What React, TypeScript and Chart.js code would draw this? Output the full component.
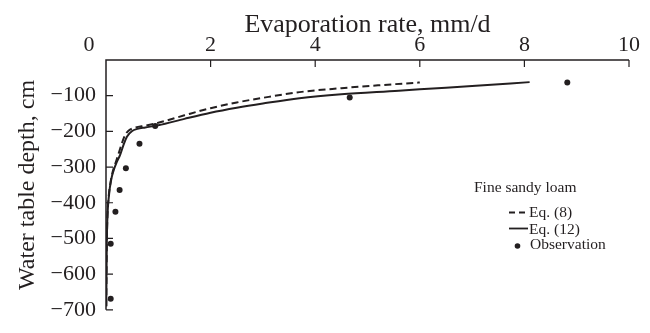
import React, { useEffect, useRef } from 'react';
import { Chart, registerables } from 'chart.js';

Chart.register(...registerables);

const SERIF = "'Liberation Serif', 'Times New Roman', serif";
const INK = '#231f20';

// Axis ranges / ticks
const xTickValues = [0, 2, 4, 6, 8, 10];
const yTickValues = [0, -100, -200, -300, -400, -500, -600, -700];

// Eq. (8) – dashed curve
const eq8X = [0.005, 0.01, 0.015, 0.025, 0.05, 0.09, 0.13, 0.19, 0.25, 0.3, 0.36, 0.43, 0.55, 0.75, 1.0, 1.5, 2.0, 2.5, 3.0, 3.7, 4.5, 5.2, 6.0];
const eq8Y = [-690, -600, -520, -450, -385, -340, -312, -285, -258, -235, -212, -198, -190, -184, -176, -155, -135, -119, -106, -90, -79, -71, -63];

// Eq. (12) – solid curve
const eq12X = [0.005, 0.01, 0.015, 0.025, 0.06, 0.1, 0.14, 0.2, 0.27, 0.33, 0.4, 0.5, 0.6, 0.75, 1.0, 1.5, 2.0, 2.5, 3.0, 3.7, 4.5, 5.6, 6.0, 7.0, 8.1];
const eq12Y = [-690, -600, -520, -450, -375, -335, -312, -288, -266, -240, -215, -199, -193, -189, -183, -165, -148, -134, -122, -107, -96, -86, -82, -73, -62];

// Observations
const obsX = [0.09, 0.09, 0.18, 0.26, 0.38, 0.64, 0.94, 4.66, 8.82];
const obsY = [-669, -515, -425, -364, -303, -235, -185, -105, -63];

const legendTitle = 'Fine sandy loam';
const legendLabels = ['Eq. (8)', 'Eq. (12)', 'Observation'];

const toPts = (xs: number[], ys: number[]) => xs.map((x, i) => ({ x, y: ys[i] }));

const X_TICK_PAD = 2;
const X_TICK_FONT = 22;

const customPlugin = {
  id: 'customAxesLegend',
  afterDraw(chart: any) {
    const { ctx, scales } = chart;
    const xs = scales.x;
    const ys = scales.y;
    const xL = xs.getPixelForValue(0);
    const xR = xs.getPixelForValue(10);
    const yT = ys.getPixelForValue(0);
    const yB = ys.getPixelForValue(-700);
    ctx.save();
    ctx.strokeStyle = INK;
    ctx.lineWidth = 1.5;
    ctx.lineCap = 'butt';
    // axes
    ctx.beginPath();
    ctx.moveTo(xR, yT);
    ctx.lineTo(xL, yT);
    ctx.lineTo(xL, yB);
    ctx.stroke();
    // inward ticks
    ctx.lineWidth = 1.2;
    ctx.beginPath();
    xTickValues.forEach((v) => {
      if (v === 0) return;
      const px = xs.getPixelForValue(v);
      ctx.moveTo(px, yT);
      ctx.lineTo(px, yT + 7);
    });
    yTickValues.forEach((v) => {
      if (v === 0) return;
      const py = ys.getPixelForValue(v);
      ctx.moveTo(xL, py);
      ctx.lineTo(xL + 7, py);
    });
    ctx.stroke();

    // "0" label on top axis (offset left of the corner)
    ctx.fillStyle = INK;
    ctx.font = `${X_TICK_FONT}px ${SERIF}`;
    ctx.textAlign = 'center';
    ctx.textBaseline = 'middle';
    ctx.fillText('0', xL - 17, xs.bottom - X_TICK_PAD - (X_TICK_FONT * 1.2) / 2);

    // legend
    ctx.font = `15.5px ${SERIF}`;
    ctx.textAlign = 'left';
    ctx.textBaseline = 'middle';
    ctx.fillText(legendTitle, 474, 188);
    const lx = 509;
    const tx = 529;
    // dashed
    ctx.lineWidth = 1.8;
    ctx.setLineDash([6, 4]);
    ctx.beginPath();
    ctx.moveTo(lx, 212.5);
    ctx.lineTo(lx + 17, 212.5);
    ctx.stroke();
    ctx.setLineDash([]);
    ctx.fillText(legendLabels[0], tx, 213);
    // solid
    ctx.beginPath();
    ctx.moveTo(lx, 228.5);
    ctx.lineTo(lx + 19, 228.5);
    ctx.stroke();
    ctx.fillText(legendLabels[1], tx, 230);
    // dot
    ctx.beginPath();
    ctx.arc(517.5, 246, 2.8, 0, Math.PI * 2);
    ctx.fill();
    ctx.fillText(legendLabels[2], 530, 245);
    ctx.restore();
  },
};

export default function App() {
  const canvasRef = useRef<HTMLCanvasElement | null>(null);

  useEffect(() => {
    if (!canvasRef.current) return;
    const chart = new Chart(canvasRef.current, {
      type: 'scatter',
      data: {
        datasets: [
          {
            label: legendLabels[0],
            data: toPts(eq8X, eq8Y),
            showLine: true,
            borderColor: INK,
            borderWidth: 2,
            borderDash: [7, 4],
            pointRadius: 0,
            cubicInterpolationMode: 'monotone',
            fill: false,
          },
          {
            label: legendLabels[1],
            data: toPts(eq12X, eq12Y),
            showLine: true,
            borderColor: INK,
            borderWidth: 2,
            pointRadius: 0,
            cubicInterpolationMode: 'monotone',
            fill: false,
          },
          {
            label: legendLabels[2],
            data: toPts(obsX, obsY),
            showLine: false,
            pointRadius: 3,
            pointBackgroundColor: INK,
            pointBorderColor: INK,
            pointBorderWidth: 0,
          },
        ],
      },
      options: {
        responsive: false,
        animation: false,
        events: [],
        layout: { padding: { left: 0, top: 0, right: 21, bottom: 11 } },
        plugins: {
          legend: { display: false },
          tooltip: { enabled: false },
        },
        scales: {
          x: {
            type: 'linear',
            position: 'top',
            min: 0,
            max: 10,
            grid: { display: false, drawTicks: false },
            border: { display: false },
            ticks: {
              stepSize: 2,
              padding: X_TICK_PAD,
              color: INK,
              font: { family: SERIF, size: X_TICK_FONT },
              callback: (v: any) => (Number(v) === 0 ? '' : String(v)),
              maxRotation: 0,
            },
            title: {
              display: true,
              text: 'Evaporation rate, mm/d',
              color: INK,
              font: { family: SERIF, size: 26 },
              padding: { top: 10, bottom: 0 },
            },
            afterFit: (scale: any) => {
              scale.height = 60;
            },
          },
          y: {
            type: 'linear',
            position: 'left',
            min: -700,
            max: 0,
            grid: { display: false, drawTicks: false },
            border: { display: false },
            ticks: {
              stepSize: 100,
              padding: 10,
              color: INK,
              font: { family: SERIF, size: 22 },
              callback: (v: any) => (Number(v) === 0 ? '' : '\u2212' + Math.abs(Number(v))),
            },
            title: {
              display: true,
              text: 'Water table depth, cm',
              color: INK,
              font: { family: SERIF, size: 24 },
              padding: { top: 13, bottom: 0 },
            },
            afterFit: (scale: any) => {
              scale.width = 106;
            },
          },
        },
      },
      plugins: [customPlugin],
    });
    return () => chart.destroy();
  }, []);

  return (
    <div style={{ position: 'absolute', left: 0, top: 0, width: 650, height: 333, background: '#fff' }}>
      <canvas ref={canvasRef} width={650} height={333} />
    </div>
  );
}
